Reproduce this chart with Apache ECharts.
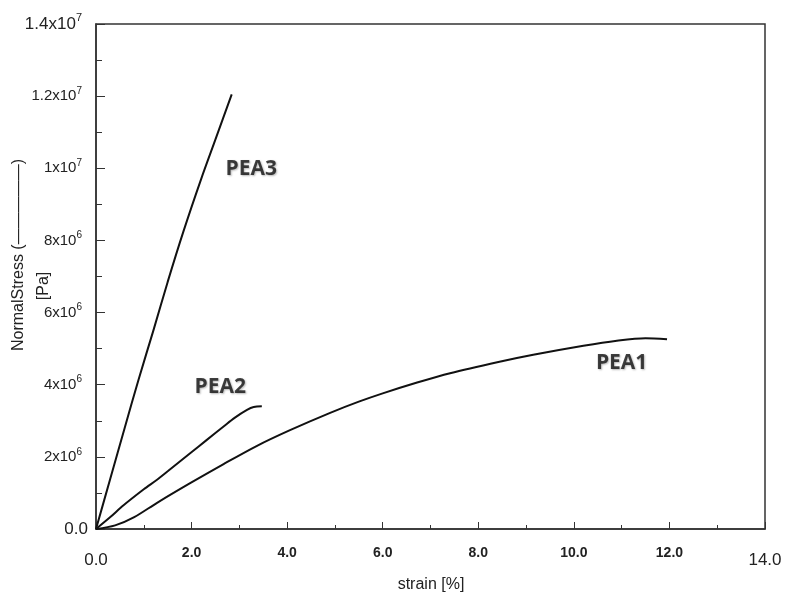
<!DOCTYPE html>
<html>
<head>
<meta charset="utf-8">
<script src="https://cdn.jsdelivr.net/npm/echarts@6/dist/echarts.min.js"></script>
<style>
  html, body { margin: 0; padding: 0; background: #fff; }
  #chart { width: 785px; height: 596px; }
</style>
</head>
<body>
<div id="chart"></div>
<script>
// strain [%], stress [Pa]
const pea1 = [
  [0, 0], [0.4, 0.1e6], [0.8, 0.33e6], [1.27, 0.72e6], [1.97, 1.27e6],
  [2.67, 1.8e6], [3.36, 2.3e6], [4.06, 2.74e6], [4.9, 3.22e6], [5.5, 3.53e6],
  [6.0, 3.76e6], [6.72, 4.06e6], [7.41, 4.32e6], [8.42, 4.63e6], [9.15, 4.83e6],
  [10.2, 5.08e6], [10.9, 5.22e6], [11.5, 5.29e6], [11.95, 5.26e6]
];
const pea2 = [
  [0, 0], [0.3, 0.33e6], [0.57, 0.65e6], [1.0, 1.1e6], [1.27, 1.36e6],
  [1.5, 1.6e6], [1.97, 2.1e6], [2.3, 2.45e6], [2.67, 2.84e6], [2.9, 3.08e6],
  [3.16, 3.3e6], [3.3, 3.38e6], [3.47, 3.4e6]
];
const pea3 = [
  [0, 0], [0.3, 1.4e6], [0.6, 2.8e6], [0.89, 4.14e6], [1.2, 5.5e6],
  [1.5, 6.85e6], [1.83, 8.25e6], [2.2, 9.7e6], [2.5, 10.8e6], [2.84, 12.05e6]
];
const curveLabels = [
  { name: 'PEA1', value: [11.0, 4.6e6] },
  { name: 'PEA2', value: [2.6, 3.94e6] },
  { name: 'PEA3', value: [3.25, 9.97e6] }
];

const FONT = 'Arial, Liberation Sans, sans-serif';

function yLabel(v) {
  if (v === 0) return '{z|0.0}';
  const exp = Math.floor(Math.log10(v));
  const m = +(v / Math.pow(10, exp)).toFixed(1);
  const base = (m % 1 === 0 ? m.toFixed(0) : m.toFixed(1)) + 'x10';
  if (v === 1.4e7) return '{bb|' + base + '}{bs|' + exp + '}';
  return '{b|' + base + '}{s|' + exp + '}';
}

function xLabel(v) {
  if (v === 0 || v === 14) return '{big|' + v.toFixed(1) + '}';
  return v.toFixed(1);
}

function lineSeries(name, data) {
  return {
    name: name,
    type: 'line',
    data: data,
    showSymbol: false,
    smooth: 0.3,
    lineStyle: { color: '#111', width: 2 },
    silent: true
  };
}

const chart = echarts.init(document.getElementById('chart'));
chart.setOption({
  animation: false,
  grid: {
    left: 96, top: 24, right: 20, bottom: 67,
    show: true, borderColor: '#333', borderWidth: 1.5
  },
  xAxis: {
    type: 'value',
    min: 0, max: 14, interval: 2,
    axisLine: { lineStyle: { color: '#333', width: 1.5 } },
    axisTick: { inside: true, length: 7, lineStyle: { color: '#333' } },
    minorTick: { show: true, splitNumber: 2, length: 4, lineStyle: { color: '#333' } },
    splitLine: { show: false },
    axisLabel: {
      margin: 17,
      color: '#222',
      fontFamily: FONT,
      fontSize: 14,
      fontWeight: 'bold',
      formatter: xLabel,
      rich: {
        big: { fontSize: 17, fontWeight: 'normal', color: '#222', padding: [6, 0, 0, 0], fontFamily: FONT }
      }
    }
  },
  yAxis: {
    type: 'value',
    min: 0, max: 1.4e7, interval: 2e6,
    axisLine: { show: true, lineStyle: { color: '#333', width: 1.5 } },
    axisTick: { inside: true, length: 9, lineStyle: { color: '#333' } },
    minorTick: { show: true, splitNumber: 2, length: 6, lineStyle: { color: '#333' } },
    splitLine: { show: false },
    axisLabel: {
      margin: 14,
      color: '#222',
      fontFamily: FONT,
      formatter: yLabel,
      rich: {
        b: { fontSize: 15, color: '#222', fontFamily: FONT },
        s: { fontSize: 10, color: '#222', verticalAlign: 'top', padding: [0, 0, 10, 0], fontFamily: FONT },
        bb: { fontSize: 17, color: '#222', fontFamily: FONT },
        bs: { fontSize: 11, color: '#222', verticalAlign: 'top', padding: [0, 0, 12, 0], fontFamily: FONT },
        z: { fontSize: 17, color: '#222', padding: [0, -6, 0, 0], fontFamily: FONT }
      }
    }
  },
  series: [
    lineSeries('PEA1', pea1),
    lineSeries('PEA2', pea2),
    lineSeries('PEA3', pea3),
    {
      type: 'scatter',
      data: curveLabels,
      symbolSize: 0,
      silent: true,
      label: {
        show: true,
        position: 'inside',
        formatter: '{b}',
        color: '#111',
        fontSize: 21,
        fontWeight: 'bold',
        fontFamily: 'Open Sans, Noto Sans, sans-serif',
        textShadowColor: 'rgba(0,0,0,0.35)',
        textShadowBlur: 2,
        textShadowOffsetX: 1,
        textShadowOffsetY: 1
      }
    }
  ],
  graphic: [
    {
      type: 'text',
      x: 19, y: 255,
      rotation: Math.PI / 2,
      style: {
        text: 'NormalStress (\u2014\u2014\u2014\u2014\u2014)',
        font: '16px ' + FONT,
        fill: '#222',
        align: 'center',
        verticalAlign: 'middle'
      }
    },
    {
      type: 'text',
      x: 44, y: 286,
      rotation: Math.PI / 2,
      style: {
        text: '[Pa]',
        font: '16px ' + FONT,
        fill: '#222',
        align: 'center',
        verticalAlign: 'middle'
      }
    },
    {
      type: 'text',
      x: 431, y: 585,
      style: {
        text: 'strain [%]',
        font: '16px ' + FONT,
        fill: '#222',
        align: 'center',
        verticalAlign: 'middle'
      }
    }
  ]
});
</script>
</body>
</html>
